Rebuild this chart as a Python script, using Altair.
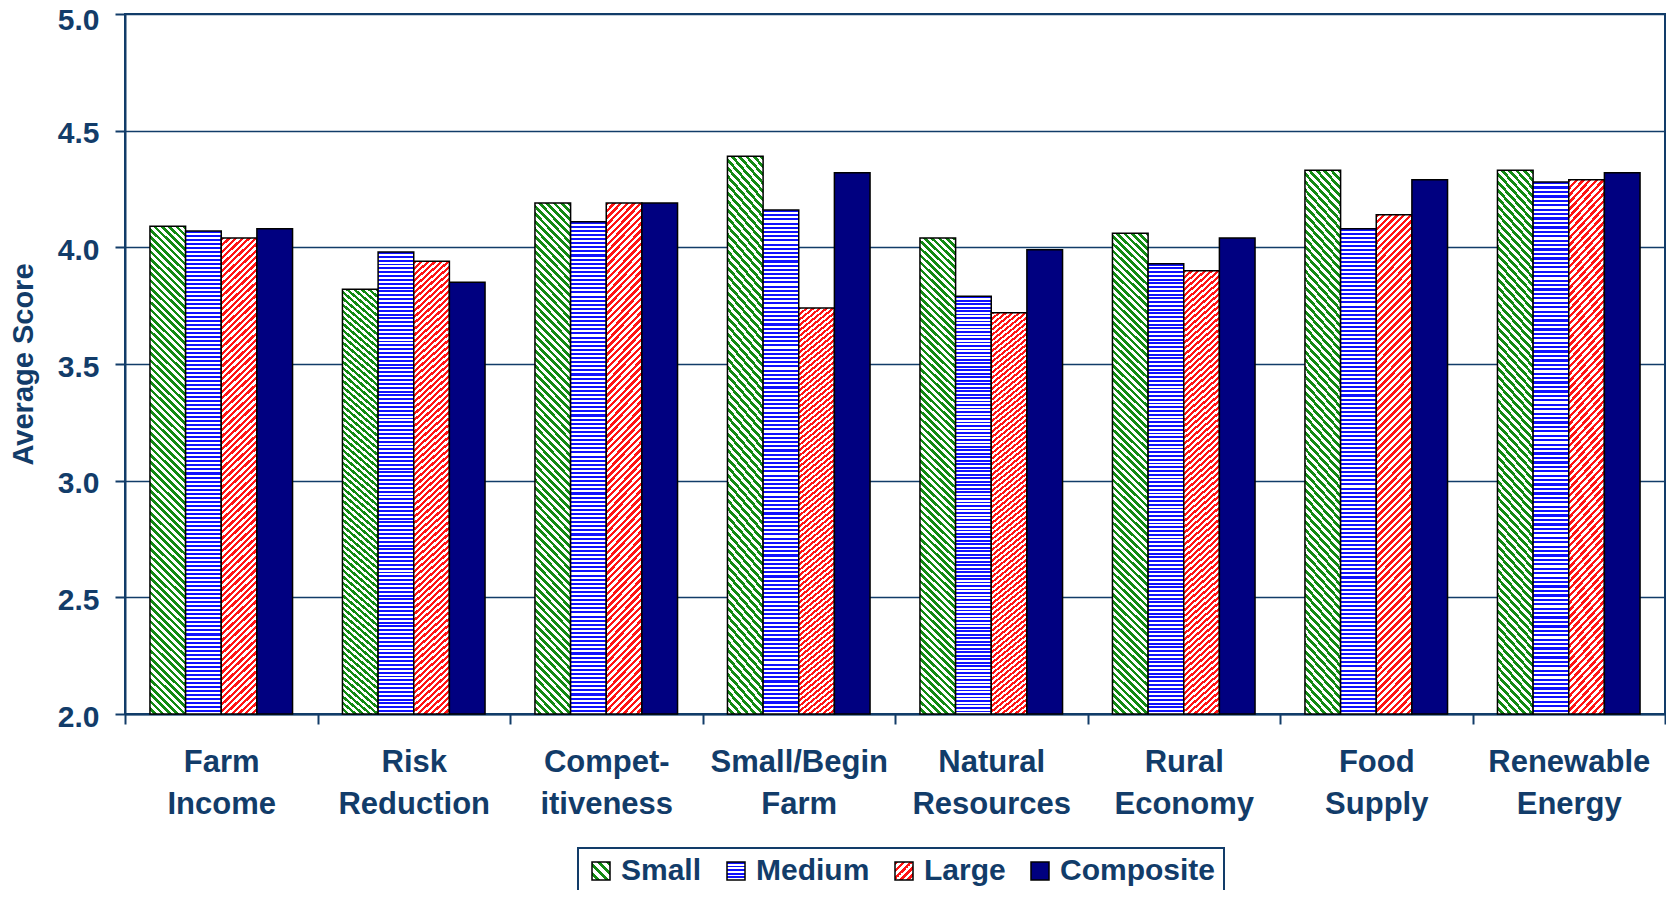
import json
import altair as alt
import pandas as pd

categories = ["Farm Income", "Risk Reduction", "Compet-itiveness", "Small/Begin Farm",
              "Natural Resources", "Rural Economy", "Food Supply", "Renewable Energy"]
series = ["Small", "Medium", "Large", "Composite"]
small = [4.09, 3.82, 4.19, 4.39, 4.04, 4.06, 4.33, 4.33]
medium = [4.07, 3.98, 4.11, 4.16, 3.79, 3.93, 4.08, 4.28]
large = [4.04, 3.94, 4.19, 3.74, 3.72, 3.90, 4.14, 4.29]
composite = [4.08, 3.85, 4.19, 4.32, 3.99, 4.04, 4.29, 4.32]
y_ticks = [2.0, 2.5, 3.0, 3.5, 4.0, 4.5, 5.0]

rows = []
for s, vals in zip(series, [small, medium, large, composite]):
    for c, v in zip(categories, vals):
        rows.append({"category": c, "series": s, "value": v})
df = pd.DataFrame(rows)

NAVY = "#123c69"
FONT = "Liberation Sans"
GREEN = "#138a13"
BLUE = "#1010ff"
RED = "#ff1414"
COMP = "#000080"


def stripes(x1, y1, x2, y2, n, c1, c2, frac=0.5):
    stops = []
    for i in range(n):
        a = i / n
        b = (i + frac) / n
        e = (i + 1) / n
        stops += [{"offset": round(a, 5), "color": c1}, {"offset": round(b, 5), "color": c1},
                  {"offset": round(b, 5), "color": c2}, {"offset": round(e, 5), "color": c2}]
    g = {"gradient": "linear", "x1": x1, "y1": y1, "x2": x2, "y2": y2, "stops": stops}
    return {"expr": json.dumps(g)}


# gradients for tall bars (about 36 px wide, ~480 px tall)
bar_range = [
    stripes(1, 0, 0.923, 1.066, 72, GREEN, "#ffffff"),
    stripes(0, 0, 0, 1, 120, BLUE, "#ffffff"),
    stripes(0, 0, 0.0767, 1.066, 80, RED, "#ffffff"),
    {"expr": json.dumps(COMP)},
]
# gradients for legend squares
leg_range = [
    stripes(1, 0, 0, 1, 4, GREEN, "#ffffff"),
    stripes(0, 0, 0, 1, 5, BLUE, "#ffffff"),
    stripes(0, 0, 1, 1, 5, RED, "#ffffff"),
    {"expr": json.dumps(COMP)},
]

label_expr = ("datum.label == 'Compet-itiveness' ? ['Compet-', 'itiveness'] : split(datum.label, ' ')")

base = alt.Chart(df)

bars = base.mark_bar(stroke="black", strokeWidth=1.5).encode(
    x=alt.X("category:N", sort=categories,
            scale=alt.Scale(paddingInner=0, paddingOuter=0),
            axis=alt.Axis(title=None, labelAngle=0, tickBand="extent", labelExpr=label_expr,
                          labelFont=FONT, labelFontSize=31, labelFontWeight="bold",
                          labelColor=NAVY, labelPadding=23, labelLineHeight=42,
                          domainColor=NAVY, domainWidth=2, tickColor=NAVY, tickWidth=2,
                          tickSize=10, grid=False)),
    xOffset=alt.XOffset("series:N", sort=series,
                        scale=alt.Scale(domain=series, paddingInner=0, paddingOuter=0.7)),
    y=alt.Y("value:Q", scale=alt.Scale(domain=[2, 5], zero=False, nice=False),
            axis=alt.Axis(title="Average Score", values=y_ticks, format=".1f",
                          grid=True, gridColor=NAVY, gridWidth=1.5,
                          tickSize=10, tickColor=NAVY, tickWidth=2,
                          domainColor=NAVY, domainWidth=2,
                          labelFont=FONT, labelFontSize=30, labelFontWeight="bold",
                          labelColor=NAVY, labelPadding=16,
                          labelOffset={"condition": {"test": "datum.value >= 5", "value": 6},
                                       "value": 3},
                          titleFont=FONT, titleFontSize=29, titleFontWeight="bold",
                          titleColor=NAVY, titleX=-93, titleY=350, titleAngle=270,
                          titleAlign="center", titleBaseline="alphabetic")),
    y2=alt.datum(2),
    fill=alt.Fill("series:N", scale=alt.Scale(domain=series, range=bar_range), legend=None),
)

legend_layer = base.transform_filter("false").mark_square(
    size=324, stroke="black", strokeWidth=1.5, filled=True, opacity=1
).encode(
    fill=alt.Fill("series:N", scale=alt.Scale(domain=series, range=leg_range),
                  legend=alt.Legend(title=None, orient="none", legendX=453, legendY=834,
                                    direction="horizontal", symbolType="square",
                                    symbolSize=324, symbolStrokeColor="black",
                                    symbolStrokeWidth=1.5, labelFont=FONT,
                                    labelFontSize=30, labelFontWeight="bold",
                                    labelColor=NAVY, labelOffset=5, columnPadding=19,
                                    padding=8, strokeColor=NAVY)),
)

chart = alt.layer(bars, legend_layer).resolve_scale(fill="independent").properties(
    width=1540, height=700,
    autosize=alt.AutoSizeParams(type="none"),
    padding={"left": 117, "top": 6, "right": 1, "bottom": 176},
).configure_view(stroke=NAVY, strokeWidth=2).configure_legend(strokeWidth=2)

chart.save("out.html", embed_options={"renderer": "svg", "actions": False})
